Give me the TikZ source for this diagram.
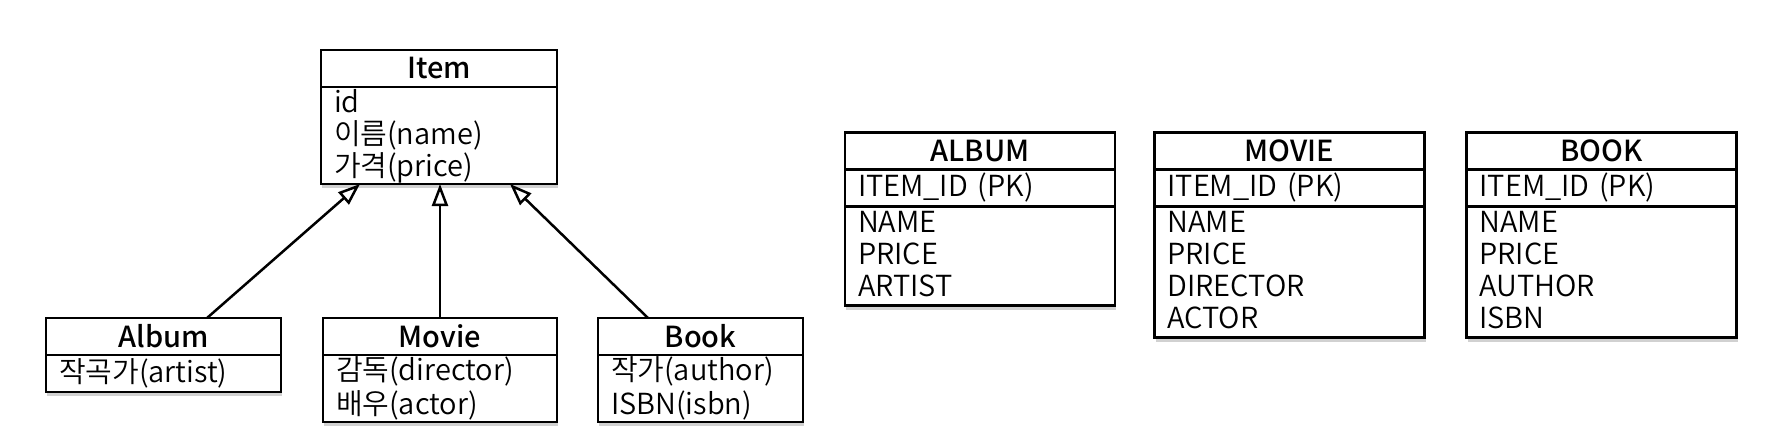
\documentclass[tikz,border=0pt]{standalone}
\usepackage{fontspec}
\setmainfont{Noto Sans CJK KR DemiLight}[BoldFont={Noto Sans CJK KR Medium}]
\usetikzlibrary{
    arrows.meta,
    shadows,
    positioning
}
\newcommand{\rowstrut}{\rule[-8pt]{0pt}{33pt}}
\tikzset{
    boxshadow/.style={drop shadow={shadow xshift=1pt, shadow yshift=-4pt, opacity=0.3, fill=black!60}},
    head/.style={draw, line width=2.5pt, fill=white, inner sep=0pt, outer sep=0pt, minimum height=37pt,
        font=\fontsize{29}{32}\selectfont\bfseries, boxshadow},
    body/.style={draw, line width=2.5pt, fill=white, inner xsep=13pt, inner ysep=0pt, outer sep=0pt,
        align=left, font=\fontsize{29}{32}\selectfont, boxshadow,
        execute at begin node=\rowstrut, execute at end node=\rowstrut},
    isa/.style={-{Triangle[open, length=22pt, width=16pt]}, line width=2.5pt}
}

\begin{document}
\begin{tikzpicture}[x=1pt, y=-1pt]
    \useasboundingbox (0, 0) rectangle (1772, 440);
    % class diagram
    \node[head, minimum width=236pt] (item) at (439, 68.5) {Item};
    \node[body, text width=210pt, minimum height=96pt, below=0pt of item] (itembody) {id\\이름(name)\\가격(price)};
    \node[head, minimum width=235pt] (album) at (163.5, 336.5) {Album};
    \node[body, text width=209pt, minimum height=37pt, below=0pt of album] (albumbody) {작곡가(artist)};
    \node[head, minimum width=234pt] (movie) at (440, 336.5) {Movie};
    \node[body, text width=208pt, minimum height=63pt, below=0pt of movie] (moviebody) {감독(director)\\배우(actor)};
    \node[head, minimum width=205pt] (book) at (700.5, 336.5) {Book};
    \node[body, text width=179pt, minimum height=63pt, below=0pt of book] (bookbody) {작가(author)\\ISBN(isbn)};
    \draw[isa] ([xshift=43.5pt]album.north) -- ([xshift=-79pt]itembody.south);
    \draw[isa] (movie.north) -- (movie.north |- itembody.south);
    \draw[isa] ([xshift=-52.5pt]book.north) -- ([xshift=71pt]itembody.south);
    % tables
    \node[head, minimum width=270pt] (albumtab) at (980, 151) {ALBUM};
    \node[body, text width=244pt, minimum height=37pt, below=0pt of albumtab] (albumpk) {ITEM\_ID (PK)};
    \node[body, text width=244pt, minimum height=99pt, below=0pt of albumpk] (albumcols) {NAME\\PRICE\\ARTIST};
    \node[head, minimum width=270pt] (movietab) at (1289.5, 151) {MOVIE};
    \node[body, text width=244pt, minimum height=37pt, below=0pt of movietab] (moviepk) {ITEM\_ID (PK)};
    \node[body, text width=244pt, minimum height=131pt, below=0pt of moviepk] (moviecols) {NAME\\PRICE\\DIRECTOR\\ACTOR};
    \node[head, minimum width=270pt] (booktab) at (1601.5, 151) {BOOK};
    \node[body, text width=244pt, minimum height=37pt, below=0pt of booktab] (bookpk) {ITEM\_ID (PK)};
    \node[body, text width=244pt, minimum height=131pt, below=0pt of bookpk] (bookcols) {NAME\\PRICE\\AUTHOR\\ISBN};
\end{tikzpicture}
\end{document}
